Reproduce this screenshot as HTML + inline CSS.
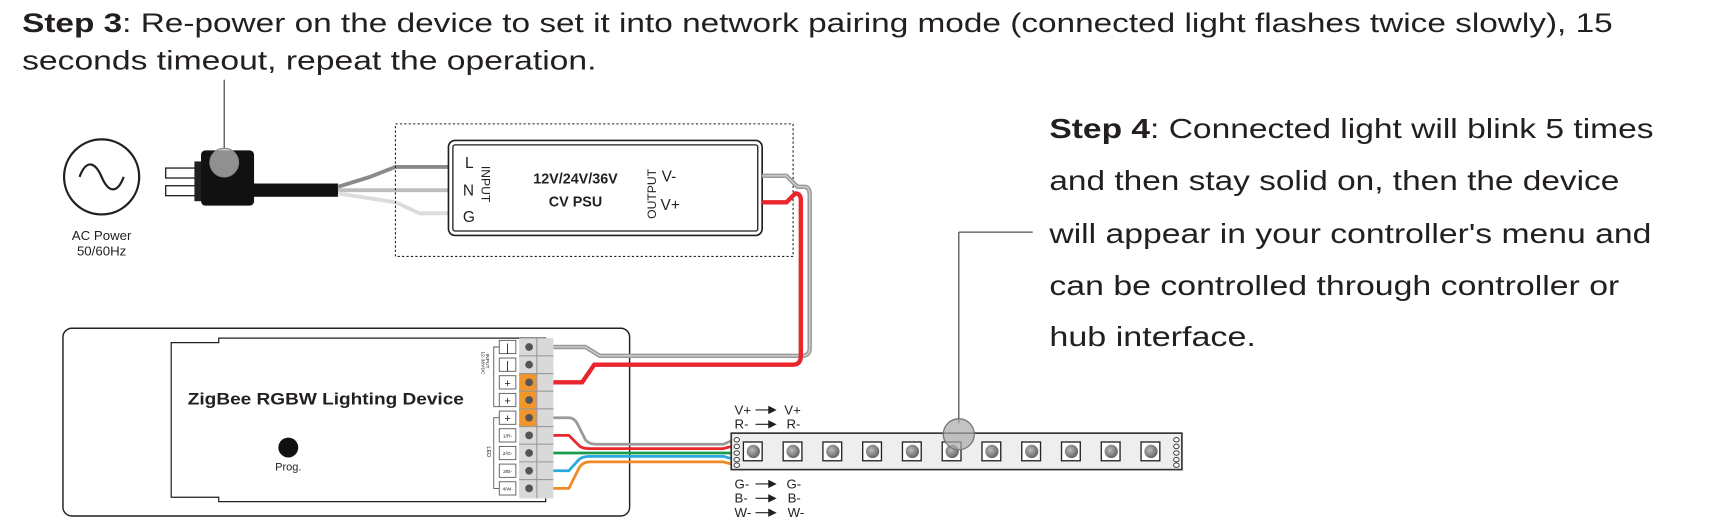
<!DOCTYPE html>
<html><head><meta charset="utf-8"><style>
html,body{margin:0;padding:0;background:#fff;}
svg{display:block;}
text{font-family:"Liberation Sans",sans-serif;fill:#231f20;}
</style></head><body>
<svg width="1732" height="525" viewBox="0 0 1568 475" xmlns="http://www.w3.org/2000/svg">
<!-- Step 3 -->
<text x="20" y="29" font-size="24" textLength="1440" lengthAdjust="spacingAndGlyphs"><tspan font-weight="bold">Step 3</tspan>: Re-power on the device to set it into network pairing mode (connected light flashes twice slowly), 15</text>
<text x="20" y="63" font-size="24" textLength="520" lengthAdjust="spacingAndGlyphs">seconds timeout, repeat the operation.</text>
<!-- Step 4 -->
<g font-size="25">
<text x="950" y="125" textLength="547" lengthAdjust="spacingAndGlyphs"><tspan font-weight="bold">Step 4</tspan>: Connected light will blink 5 times</text>
<text x="950" y="172" textLength="516" lengthAdjust="spacingAndGlyphs">and then stay solid on, then the device</text>
<text x="950" y="220" textLength="545" lengthAdjust="spacingAndGlyphs">will appear in your controller's menu and</text>
<text x="950" y="267" textLength="516" lengthAdjust="spacingAndGlyphs">can be controlled through controller or</text>
<text x="950" y="313" textLength="187" lengthAdjust="spacingAndGlyphs">hub interface.</text>
</g>
<line x1="868" y1="210" x2="935" y2="210" stroke="#555" stroke-width="1.2"/>
<line x1="868" y1="210" x2="868" y2="383" stroke="#555" stroke-width="1.2"/>

<!-- AC power -->
<circle cx="92" cy="160" r="34" fill="none" stroke="#231f20" stroke-width="2"/>
<path d="M72 160 C78 144 86 146 92 160 C98 174 106 176 112 160" fill="none" stroke="#231f20" stroke-width="2"/>
<text x="92" y="217" font-size="12" text-anchor="middle">AC Power</text>
<text x="92" y="231" font-size="12" text-anchor="middle">50/60Hz</text>
<!-- plug -->
<rect x="150" y="152" width="34" height="9" fill="#fff" stroke="#231f20" stroke-width="1.2"/>
<rect x="150" y="168" width="34" height="9" fill="#fff" stroke="#231f20" stroke-width="1.2"/>
<rect x="176" y="146" width="10" height="36" fill="#231f20"/>
<rect x="182" y="136" width="48" height="50" rx="4" fill="#111"/>
<rect x="228" y="166" width="78" height="12" fill="#111"/>
<line x1="203" y1="72" x2="203" y2="134" stroke="#555" stroke-width="1.2"/>
<ellipse cx="203" cy="147" rx="13" ry="13" fill="#bbb" fill-opacity="0.75" stroke="#888" stroke-width="1"/>
<!-- input wires -->
<path d="M306 169 L335 160 L358 151 L406 151" fill="none" stroke="#8a8a8a" stroke-width="3.5"/>
<path d="M306 172 L406 172" fill="none" stroke="#bdbdbd" stroke-width="3.5"/>
<path d="M306 175 L358 183 L380 193 L406 193" fill="none" stroke="#dcdcdc" stroke-width="3.5"/>
<!-- PSU -->
<rect x="358" y="112" width="360" height="120" fill="none" stroke="#231f20" stroke-width="1" stroke-dasharray="2,2"/>
<rect x="406" y="127" width="284" height="86" rx="6" fill="#fff" stroke="#231f20" stroke-width="1.5"/>
<rect x="410" y="131" width="276" height="78" rx="2" fill="none" stroke="#231f20" stroke-width="1.2"/>
<text x="421" y="152" font-size="14">L</text>
<text x="419" y="177" font-size="14">N</text>
<text x="419" y="201" font-size="14">G</text>
<text transform="translate(436,150) rotate(90)" font-size="11">INPUT</text>
<text x="521" y="166" font-size="13" font-weight="bold" text-anchor="middle">12V/24V/36V</text>
<text x="521" y="187" font-size="13" font-weight="bold" text-anchor="middle">CV PSU</text>
<text transform="translate(594,198) rotate(-90)" font-size="11">OUTPUT</text>
<text x="599" y="164" font-size="14">V-</text>
<text x="598" y="190" font-size="14">V+</text>

<!-- device -->
<rect x="57" y="297" width="513" height="170" rx="8" fill="#fff" stroke="#231f20" stroke-width="1.3"/>
<path d="M155 310 L198 310 L198 306 L494 306 L494 454 L198 454 L198 450 L155 450 Z" fill="#fff" stroke="#231f20" stroke-width="1.1"/>
<text x="170" y="366" font-size="15" font-weight="bold" textLength="250" lengthAdjust="spacingAndGlyphs">ZigBee RGBW Lighting Device</text>
<circle cx="261" cy="405" r="9" fill="#111"/>
<text x="261" y="426" font-size="10" text-anchor="middle">Prog.</text>
<!-- terminal block -->
<g>
<rect x="470" y="306" width="31" height="145" fill="#d9d9d9"/>
<rect x="470" y="338" width="16" height="48" fill="#f0962d"/>
<g stroke="#999" stroke-width="1">
<line x1="470" y1="322" x2="501" y2="322"/><line x1="470" y1="338" x2="501" y2="338"/>
<line x1="470" y1="354" x2="501" y2="354"/><line x1="470" y1="370" x2="501" y2="370"/>
<line x1="470" y1="386" x2="501" y2="386"/><line x1="470" y1="402" x2="501" y2="402"/>
<line x1="470" y1="418" x2="501" y2="418"/><line x1="470" y1="434" x2="501" y2="434"/>
<line x1="486" y1="306" x2="486" y2="451"/>
</g>
<g fill="#555">
<circle cx="479" cy="314" r="3.5"/><circle cx="479" cy="330" r="3.5"/><circle cx="479" cy="346" r="3.5"/>
<circle cx="479" cy="362" r="3.5"/><circle cx="479" cy="378" r="3.5"/><circle cx="479" cy="394" r="3.5"/>
<circle cx="479" cy="410" r="3.5"/><circle cx="479" cy="426" r="3.5"/><circle cx="479" cy="442" r="3.5"/>
</g>
<g fill="#fff" stroke="#555" stroke-width="0.8">
<rect x="452" y="308" width="15" height="12"/><rect x="452" y="324" width="15" height="12"/><rect x="452" y="340" width="15" height="12"/>
<rect x="452" y="356" width="15" height="12"/><rect x="452" y="372" width="15" height="12"/><rect x="452" y="388" width="15" height="12"/>
<rect x="452" y="404" width="15" height="12"/><rect x="452" y="420" width="15" height="12"/><rect x="452" y="436" width="15" height="12"/>
</g>
<g font-size="10" text-anchor="middle">
<text x="459.5" y="318">|</text><text x="459.5" y="334">|</text><text x="459.5" y="350">+</text><text x="459.5" y="366">+</text><text x="459.5" y="382">+</text>
</g>
<g font-size="4.5" text-anchor="middle">
<text x="459.5" y="396">1/R-</text><text x="459.5" y="412">2/G-</text><text x="459.5" y="428">3/B-</text><text x="459.5" y="444">4/W-</text>
</g>
<path d="M452 314 L447 314 L447 368 L452 368 M452 378 L447 378 L447 442 L452 442" fill="none" stroke="#555" stroke-width="0.8"/>
<text transform="translate(440,320) rotate(90)" font-size="4.5">INPUT</text>
<text transform="translate(436,318) rotate(90)" font-size="4.5">12-36VDC</text>
<text transform="translate(441,404) rotate(90)" font-size="5">LED</text>
</g>
<!-- output wires (drawn over device) -->
<path d="M690 159 L712 159 L722 169 L728 169 Q733 169 733 176 L733 315 Q733 322 726 322 L543 322 L530 314 L501 314" fill="none" stroke="#9a9a9a" stroke-width="4"/>
<path d="M690 159 L712 159 L722 169 L728 169 Q733 169 733 176 L733 315 Q733 322 726 322 L543 322 L530 314 L501 314" fill="none" stroke="#d0d0d0" stroke-width="1.2"/>
<path d="M690 183 L712 183 L720 175 Q725 175 725 181 L725 322 Q725 330 718 330 L538 330 L527 346 L501 346" fill="none" stroke="#e8262b" stroke-width="4"/>
<!-- LED wires -->
<path d="M501 378 L515 378 Q520 378 523 384 L530 398 Q533 402 540 402 L655 402 L662 399" fill="none" stroke="#9a9a9a" stroke-width="2.5"/>
<path d="M501 394 L515 394 L525 404 Q528 406 534 406 L655 406 L662 404" fill="none" stroke="#e8262b" stroke-width="2.5"/>
<path d="M501 410 L662 410" fill="none" stroke="#1a9a4a" stroke-width="2.5"/>
<path d="M501 426 L515 426 L524 416 Q527 413 534 413 L655 413 L662 415" fill="none" stroke="#2aa8e0" stroke-width="2.5"/>
<path d="M501 442 L515 442 L524 424 Q527 418 534 418 L655 418 L662 420" fill="none" stroke="#f08a24" stroke-width="2.5"/>
<!-- strip -->
<rect x="662" y="392" width="408" height="33" fill="#eee" stroke="#333" stroke-width="1.5"/>
<g fill="#fff" stroke="#333" stroke-width="0.8">
<ellipse cx="667" cy="398" rx="2.5" ry="2"/><ellipse cx="667" cy="404" rx="2.5" ry="2"/><ellipse cx="667" cy="410" rx="2.5" ry="2"/><ellipse cx="667" cy="416" rx="2.5" ry="2"/><ellipse cx="667" cy="421" rx="2.5" ry="2"/>
<ellipse cx="1065" cy="398" rx="2.5" ry="2"/><ellipse cx="1065" cy="404" rx="2.5" ry="2"/><ellipse cx="1065" cy="410" rx="2.5" ry="2"/><ellipse cx="1065" cy="416" rx="2.5" ry="2"/><ellipse cx="1065" cy="421" rx="2.5" ry="2"/>
</g>
<defs><radialGradient id="lg" cx="0.4" cy="0.4" r="0.6"><stop offset="0" stop-color="#bbb"/><stop offset="1" stop-color="#666"/></radialGradient></defs>
<g>
<g id="led"><rect x="673" y="400" width="17" height="17" fill="#fff" stroke="#222" stroke-width="1.2"/><circle cx="682" cy="408.5" r="6" fill="url(#lg)"/></g>
<use href="#led" x="36"/><use href="#led" x="72"/><use href="#led" x="108"/><use href="#led" x="144"/>
<use href="#led" x="180"/><use href="#led" x="216"/><use href="#led" x="252"/><use href="#led" x="288"/>
<use href="#led" x="324"/><use href="#led" x="360"/>
</g>
<circle cx="868" cy="393" r="14" fill="#aaa" fill-opacity="0.7" stroke="#777" stroke-width="1.2"/>
<g font-size="12">
<text x="665" y="375">V+</text><text x="710" y="375">V+</text>
<text x="665" y="388">R-</text><text x="712" y="388">R-</text>
<text x="665" y="442">G-</text><text x="712" y="442">G-</text>
<text x="665" y="455">B-</text><text x="713" y="455">B-</text>
<text x="665" y="468">W-</text><text x="713" y="468">W-</text>
</g>
<g stroke="#231f20" stroke-width="1" fill="#231f20">
<line x1="684" y1="371" x2="700" y2="371"/><path d="M696 368 L702 371 L696 374 Z"/>
<line x1="684" y1="384" x2="700" y2="384"/><path d="M696 381 L702 384 L696 387 Z"/>
<line x1="684" y1="438" x2="700" y2="438"/><path d="M696 435 L702 438 L696 441 Z"/>
<line x1="684" y1="451" x2="700" y2="451"/><path d="M696 448 L702 451 L696 454 Z"/>
<line x1="684" y1="464" x2="700" y2="464"/><path d="M696 461 L702 464 L696 467 Z"/>
</g>
</svg>
</body></html>
